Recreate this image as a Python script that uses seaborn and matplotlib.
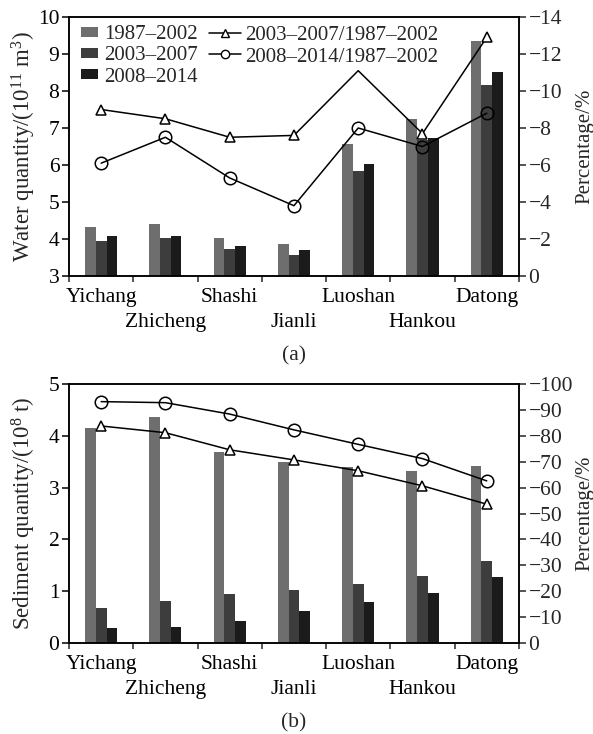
import numpy as np
import pandas as pd
import matplotlib
matplotlib.use('Agg')
import matplotlib.pyplot as plt
import seaborn as sns
from matplotlib.lines import Line2D
from matplotlib.patches import Patch

# data
stations = ['Yichang', 'Zhicheng', 'Shashi', 'Jianli', 'Luoshan', 'Hankou', 'Datong']
periods = ['1987\u20132002', '2003\u20132007', '2008\u20132014']
ratio_labels = ['2003\u20132007/1987\u20132002', '2008\u20132014/1987\u20132002']

water_8702 = [4.33, 4.40, 4.02, 3.86, 6.56, 7.24, 9.35]
water_0307 = [3.94, 4.03, 3.72, 3.57, 5.83, 6.68, 8.15]
water_0814 = [4.07, 4.07, 3.81, 3.71, 6.04, 6.73, 8.52]
water_pct_0307 = [-9.0, -8.5, -7.5, -7.6, -11.1, -7.7, -12.9]
water_pct_0814 = [-6.1, -7.5, -5.3, -3.8, -8.0, -7.0, -8.8]

sed_8702 = [4.15, 4.37, 3.69, 3.50, 3.39, 3.32, 3.42]
sed_0307 = [0.67, 0.82, 0.94, 1.03, 1.14, 1.30, 1.59]
sed_0814 = [0.28, 0.31, 0.43, 0.62, 0.79, 0.96, 1.28]
sed_pct_0307 = [-83.8, -81.2, -74.6, -70.7, -66.5, -60.7, -53.6]
sed_pct_0814 = [-93.2, -92.8, -88.4, -82.3, -76.7, -71.2, -62.6]

bar_colors = ['#6e6e6e', '#3d3d3d', '#1b1b1b']

sns.set_style('ticks')
plt.rcParams['font.family'] = ['Liberation Serif', 'DejaVu Serif']
plt.rcParams['mathtext.fontset'] = 'custom'
plt.rcParams['mathtext.rm'] = 'Liberation Serif'
plt.rcParams['axes.linewidth'] = 1.1
plt.rcParams['axes.edgecolor'] = 'black'

FS = 15.5

fig = plt.figure(figsize=(5.93, 7.34), dpi=100)
ax_a = fig.add_axes([0.1164, 0.624, 0.7586, 0.3528])
ax_b = fig.add_axes([0.1164, 0.124, 0.7586, 0.3528])


def draw_panel(ax, q1, q2, q3, p1, p2, ylim, yticks, plim, pticks, ylabel, caption, mark1=None):
    df = pd.DataFrame({'station': stations * 3,
                       'period': np.repeat(periods, len(stations)),
                       'value': q1 + q2 + q3})
    sns.barplot(data=df, x='station', y='value', hue='period', palette=bar_colors,
                width=0.5, gap=0, saturation=1, linewidth=0, legend=False, ax=ax)
    ax.set_ylim(*ylim)
    ax.set_yticks(yticks)
    ax.set_xlim(-0.5, len(stations) - 0.5)
    ax.set_xlabel('')
    ax.set_ylabel(ylabel, fontsize=16.5)
    ax.yaxis.set_label_coords(-0.07, 0.5)
    ax.tick_params(axis='y', direction='out', length=5, width=1.1, labelsize=FS, pad=2, colors='black')

    ax2 = ax.twinx()
    x = np.arange(len(stations))
    sns.lineplot(x=x, y=p1, ax=ax2, color='black', lw=1.1, marker='^', markersize=7,
                 markerfacecolor='white', markeredgecolor='black', markeredgewidth=1.1,
                 markevery=mark1, legend=False)
    sns.lineplot(x=x, y=p2, ax=ax2, color='black', lw=1.1, marker='o', markersize=9,
                 markerfacecolor='none', markeredgecolor='black', markeredgewidth=1.1,
                 legend=False)
    ax2.set_ylim(*plim)
    ax2.set_yticks(pticks)
    ax2.set_ylabel('Percentage/%', fontsize=15)
    ax2.yaxis.set_label_coords(1.125, 0.5)
    ax2.tick_params(axis='y', direction='out', length=5, width=1.1, labelsize=FS, pad=2)
    for s in ax2.spines.values():
        s.set_linewidth(1.1)

    # station names in two staggered rows, ticks at the group boundaries
    ax.set_xticks(x[::2])
    ax.set_xticklabels(stations[::2], fontsize=FS)
    ax.set_xticks(np.arange(-0.5, len(stations)), minor=True)
    ax.tick_params(axis='x', which='major', length=0, pad=8.4, colors='black')
    ax.tick_params(axis='x', which='minor', direction='out', length=4, width=1.1)
    sec = ax.secondary_xaxis('bottom')
    sec.set_xticks(x[1::2])
    sec.set_xticklabels(stations[1::2], fontsize=FS)
    sec.tick_params(axis='x', length=0, pad=27, colors='black')
    sec.spines['bottom'].set_visible(False)

    pos = ax.get_position()
    fig.text((pos.x0 + pos.x1) / 2, pos.y0 - 0.1088, caption, ha='center', va='center', fontsize=FS)
    return ax2


ax2a = draw_panel(ax_a, water_8702, water_0307, water_0814, water_pct_0307, water_pct_0814,
                  (3, 10), range(3, 11), (0, -14), range(0, -15, -2),
                  'Water quantity/(10$\\mathregular{^{11}}$ m$\\mathregular{^{3}}$)', '(a)',
                  mark1=[0, 1, 2, 3, 5, 6])
ax2b = draw_panel(ax_b, sed_8702, sed_0307, sed_0814, sed_pct_0307, sed_pct_0814,
                  (0, 5), range(0, 6), (0, -100), range(0, -101, -10),
                  'Sediment quantity/(10$\\mathregular{^{8}}$ t)', '(b)')

# two legends: bar periods on the left, ratio lines next to them
bar_handles = [Patch(facecolor=c, edgecolor='none') for c in bar_colors]
line_handles = [Line2D([], [], color='black', lw=1.1, marker='^', markersize=6,
                       markerfacecolor='white', markeredgewidth=1.0),
                Line2D([], [], color='black', lw=1.1, marker='o', markersize=6,
                       markerfacecolor='white', markeredgewidth=1.0)]
leg1 = ax2a.legend(bar_handles, periods, loc='upper left', bbox_to_anchor=(0.009, 1.0),
                   frameon=False, fontsize=15, handlelength=0.8, handleheight=0.4,
                   handletextpad=0.3, labelspacing=0.1, borderaxespad=0.2, borderpad=0.2)
ax2a.add_artist(leg1)
ax2a.legend(line_handles, ratio_labels, loc='upper left', bbox_to_anchor=(0.293, 1.0),
            frameon=False, fontsize=15, handlelength=1.55, handletextpad=0.2,
            labelspacing=0.1, borderaxespad=0.2, borderpad=0.2)

fig.savefig('out.png', dpi=100)
